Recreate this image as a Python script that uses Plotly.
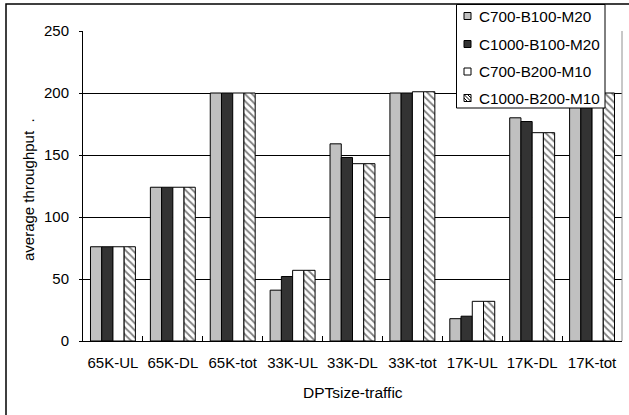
import plotly.graph_objects as go

categories = ["65K-UL", "65K-DL", "65K-tot", "33K-UL", "33K-DL", "33K-tot", "17K-UL", "17K-DL", "17K-tot"]
series_names = ["C700-B100-M20", "C1000-B100-M20", "C700-B200-M10", "C1000-B200-M10"]
c700_b100_m20 = [76, 124, 200, 41, 159, 200, 18, 180, 200]
c1000_b100_m20 = [76, 124, 200, 52, 148, 200, 20, 177, 200]
c700_b200_m10 = [76, 124, 200, 57, 143, 201, 32, 168, 200]
c1000_b200_m10 = [76, 124, 200, 57, 143, 201, 32, 168, 200]
y_ticks = [0, 50, 100, 150, 200, 250]

FONT = "Liberation Sans, Arial, sans-serif"
W, H = 629, 415
L, R, T, B = 83, 7, 31, 74
PW, PH = W - L - R, H - T - B

def px_x(p):
    return (p - L) / PW

def px_y(p):
    return (H - B - p) / PH

fills = ["#c0c0c0", "#333333", "#ffffff", "#ffffff"]

fig = go.Figure()
for i, (name, vals) in enumerate(zip(series_names, [c700_b100_m20, c1000_b100_m20, c700_b200_m10, c1000_b200_m10])):
    marker = dict(color=fills[i], line=dict(color="#000000", width=1))
    if i == 3:
        marker["pattern"] = dict(shape="\\", fgcolor="#000000", bgcolor="#ffffff", size=5, solidity=0.35)
    fig.add_trace(go.Bar(x=categories, y=vals, name=name, marker=marker, showlegend=False))

# custom legend (box, swatches, labels)
shapes = [
    dict(type="line", xref="paper", yref="paper", x0=1, x1=1, y0=0, y1=1,
         line=dict(color="#909090", width=1)),
    dict(type="rect", xref="paper", yref="paper",
         x0=px_x(6), x1=px_x(660), y0=px_y(440), y1=px_y(4),
         line=dict(color="#000000", width=1.5), fillcolor="rgba(0,0,0,0)", layer="below"),
    dict(type="rect", xref="paper", yref="paper",
         x0=px_x(456.5), x1=px_x(605), y0=px_y(108), y1=px_y(4.5),
         line=dict(color="#000000", width=1), fillcolor="#ffffff", layer="above"),
]
annotations = []
item_y = [16, 44, 71.5, 98]
sx0, sx1 = 464, 471
for i, (name, cy) in enumerate(zip(series_names, item_y)):
    shapes.append(dict(type="rect", xref="paper", yref="paper",
                       x0=px_x(sx0), x1=px_x(sx1), y0=px_y(cy + 3.5), y1=px_y(cy - 3.5),
                       line=dict(color="#000000", width=1), fillcolor=fills[i], layer="above"))
    if i == 3:
        for (ax, ay, bx, by) in [(sx0, cy - 3.5, sx1, cy + 3.5),
                                 (sx0, cy, sx0 + 3.5, cy + 3.5),
                                 (sx0 + 3.5, cy - 3.5, sx1, cy)]:
            shapes.append(dict(type="line", xref="paper", yref="paper",
                               x0=px_x(ax), x1=px_x(bx), y0=px_y(ay), y1=px_y(by),
                               line=dict(color="#000000", width=1), layer="above"))
    annotations.append(dict(text=name, xref="paper", yref="paper", x=px_x(476.5), y=px_y(cy),
                            xanchor="left", yanchor="middle", showarrow=False,
                            font=dict(family=FONT, size=15.3, color="#000000")))

annotations += [
    dict(text="DPTsize-traffic", xref="paper", yref="paper", x=px_x(353), y=px_y(392),
         xanchor="center", yanchor="middle", showarrow=False, font=dict(family=FONT, size=15.5)),
    dict(text="average throughput  .", xref="paper", yref="paper", x=px_x(28), y=px_y(190),
         xanchor="center", yanchor="middle", textangle=-90, showarrow=False, font=dict(family=FONT, size=15)),
]

fig.update_layout(
    width=W, height=H,
    margin=dict(l=L, r=R, t=T, b=B, autoexpand=False),
    paper_bgcolor="white", plot_bgcolor="white",
    barmode="group", bargap=0.25, bargroupgap=0,
    font=dict(family=FONT, size=15, color="#000000"),
    showlegend=False,
    xaxis=dict(
        showline=True, linecolor="#000000", linewidth=1, mirror=False,
        ticks="inside", tickson="boundaries", ticklen=5, tickcolor="#000000",
        ticklabelstandoff=8,
        tickfont=dict(family=FONT, size=15),
        showgrid=False,
    ),
    yaxis=dict(
        range=[0, 250], tickvals=y_ticks,
        showline=True, linecolor="#000000", linewidth=1,
        ticks="outside", ticklen=3, tickcolor="#000000",
        ticklabelstandoff=7,
        showgrid=True, gridcolor="#000000", gridwidth=1,
        zeroline=False,
        tickfont=dict(family=FONT, size=15),
    ),
    shapes=shapes,
    annotations=annotations,
)

fig.write_html("out.html", config={"displayModeBar": False},
               post_script="document.body.style.margin='0';document.body.style.overflow='hidden';")
